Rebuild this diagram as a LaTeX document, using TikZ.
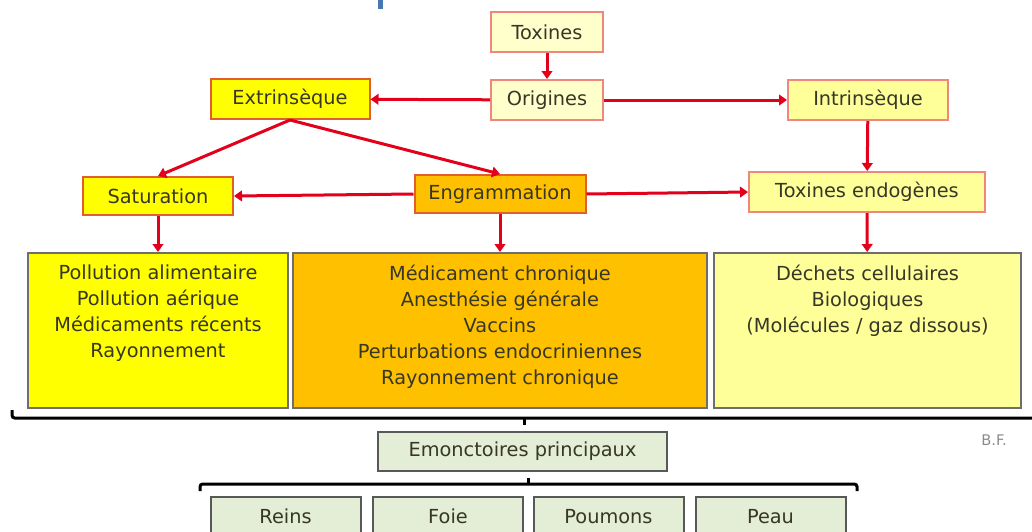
\documentclass[tikz,border=0pt]{standalone}
\usepackage{fontspec}
\setmainfont{DejaVu Sans}
\usetikzlibrary{arrows.meta}
\definecolor{texte}{RGB}{55,55,40}
\definecolor{rouge}{RGB}{227,0,27}
\definecolor{saumon}{RGB}{240,135,125}
\definecolor{brique}{RGB}{225,95,45}
\definecolor{creme}{HTML}{FFFFCC}
\definecolor{jaune}{HTML}{FFFF00}
\definecolor{jaunepale}{HTML}{FFFF99}
\definecolor{orange}{HTML}{FFC000}
\definecolor{vertpale}{RGB}{228,237,214}
\definecolor{gris}{RGB}{110,110,110}
\definecolor{bleu}{RGB}{70,120,180}
\begin{document}
\begin{tikzpicture}[
    x=0.75pt, y=-0.75pt,
    every node/.style={font=\fontsize{14.5}{19.5}\selectfont, text=texte},
    petit/.style={draw=saumon, line width=1.5pt, minimum height=30pt},
    grand/.style={draw=gris, line width=1.5pt, minimum height=116.25pt},
    emonc/.style={draw=gris!80!black, line width=1.5pt, fill=vertpale, minimum height=29.25pt},
    fleche/.style={draw=rouge, line width=2.25pt, -{Triangle[length=6pt,width=8pt]}},
    accolade/.style={line width=2.25pt, rounded corners=2pt}
  ]
  \useasboundingbox (0,0) rectangle (1032,532);
  \fill[bleu] (378,0) rectangle (383,9);

  % Origines des toxines
  \node (toxines) [petit, fill=creme, minimum width=84pt] at (547,32) {Toxines};
  \node (origines) [petit, fill=creme, minimum width=84pt] at (547,100) {Origines};
  \node (extrin) [petit, draw=brique, fill=jaune, minimum width=119.25pt] at (290,99) {Extrinsèque};
  \node (intrin) [petit, fill=jaunepale, minimum width=120pt] at (868,100) {Intrinsèque};
  \node (satur) [petit, draw=brique, fill=jaune, minimum width=112.5pt, minimum height=28.5pt] at (158,196) {Saturation};
  \node (engram) [petit, draw=brique, fill=orange, minimum width=128.25pt, minimum height=28.5pt] at (500,194) {Engrammation};
  \node (endog) [petit, fill=jaunepale, minimum width=177pt] at (867,192) {Toxines endogènes};

  % Grandes boites
  \node (boite1) [grand, fill=jaune, minimum width=195pt] at (158,330.5) {};
  \node (boite2) [grand, fill=orange, minimum width=310.5pt] at (500,330.5) {};
  \node (boite3) [grand, fill=jaunepale, minimum width=230.25pt] at (867.5,330.5) {};
  \node (liste1) [anchor=north, align=center, inner sep=0pt] at (158,265) {Pollution alimentaire\\Pollution aérique\\Médicaments récents\\Rayonnement};
  \node (liste2) [anchor=north, align=center, inner sep=0pt] at (500,265) {Médicament chronique\\Anesthésie générale\\Vaccins\\Perturbations endocriniennes\\Rayonnement chronique};
  \node (liste3) [anchor=north, align=center, inner sep=0pt] at (867.5,265) {Déchets cellulaires\\Biologiques\\(Molécules / gaz dissous)};

  % Fleches
  \draw[fleche] (toxines) -- (origines);
  \draw[fleche] (origines) -- (extrin);
  \draw[fleche] (origines) -- (intrin);
  \draw[fleche] (extrin.south) -- (satur.north);
  \draw[fleche] (extrin.south) -- (engram.north);
  \draw[fleche] (engram.west) -- (satur.east);
  \draw[fleche] (engram.east) -- (endog.west);
  \draw[fleche] (intrin) -- (endog);
  \draw[fleche] (satur) -- (boite1);
  \draw[fleche] (engram) -- (boite2);
  \draw[fleche] (endog) -- (boite3);

  % Emonctoires
  \coordinate (hautg) at (12,410);
  \coordinate (hautd) at (1034,418);
  \coordinate (hautm) at (524,418);
  \draw[accolade] (hautg) |- (hautd);
  \draw[line width=2.25pt] (hautm) -- ++(0,7);
  \node (emonct) [emonc, minimum width=216.75pt] at (522.5,451.5) {Emonctoires principaux};
  \node (bf) [font=\fontsize{11}{13}\selectfont, text=gris!80] at (994,440) {B.F.};

  \coordinate (basg) at (200,491);
  \coordinate (basd) at (857,491);
  \coordinate (basm) at (528,484);
  \draw[accolade] (basg) |- (basm) -| (basd);
  \draw[line width=2.25pt] (basm) -- ++(0,-6);
  \node (reins) [emonc, minimum width=112.5pt] at (285.5,516.5) {Reins};
  \node (foie) [emonc, minimum width=112.5pt] at (448,516.5) {Foie};
  \node (poumons) [emonc, minimum width=112.5pt] at (608.5,516.5) {Poumons};
  \node (peau) [emonc, minimum width=112.5pt] at (770.5,516.5) {Peau};
\end{tikzpicture}
\end{document}
